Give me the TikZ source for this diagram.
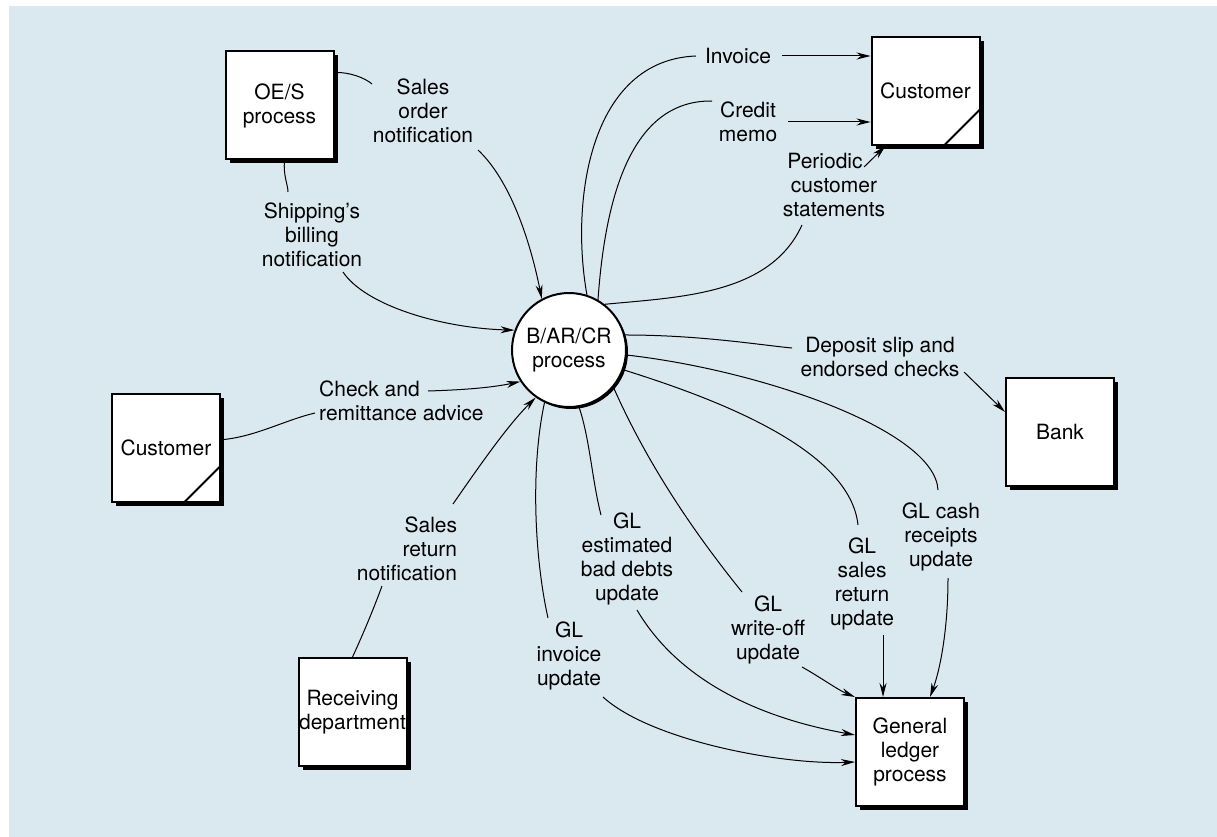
\documentclass[tikz,border=0pt]{standalone}
\usepackage{fontspec}
\setmainfont{TeX Gyre Heros}
\usetikzlibrary{shadows,arrows.meta,calc}
\definecolor{bgblue}{HTML}{DAE8F0}
\begin{document}
\begin{tikzpicture}[x=1pt,y=-1pt,
  font=\fontsize{21}{24}\selectfont,
  entity/.style={draw=black,line width=2pt,fill=white,minimum width=108pt,minimum height=108pt,
    inner sep=0pt,align=center,
    drop shadow={shadow xshift=4pt,shadow yshift=-4pt,fill=black,opacity=1}},
  procc/.style={circle,draw=black,line width=2pt,fill=white,minimum size=114pt,inner sep=0pt,align=center,
    drop shadow={shadow xshift=2pt,shadow yshift=-2pt,fill=black,opacity=1}},
  lbl/.style={align=center,inner sep=1pt},
  flow/.style={line width=1pt},
  aflow/.style={line width=1pt,-{Stealth[length=14pt,width=7pt]}}
]
% page and background
\useasboundingbox (0,0) rectangle (1217,837);
\fill[white] (0,0) rectangle (1217,837);
\fill[bgblue] (9,6) rectangle (1217,837);

% entities and processes
\node[entity] (oes) at (279.5,105.5) {OE/S\\process};
\node[entity] (custT) at (925.5,91) {Customer};
\node[entity] (custL) at (166,447.5) {Customer};
\node[entity] (bank) at (1060,432) {Bank};
\node[entity] (recv) at (352.5,712) {Receiving\\department};
\node[entity] (gl) at (910,752) {General\\ledger\\process};
\node[procc] (proc) at (569,350) {B/AR/CR\\process};

% external-entity corner marks
\foreach \n in {custT,custL}
  \draw[line width=2pt] ([xshift=-37pt]\n.south east) -- ([yshift=37pt]\n.south east);

% flow labels
\node[lbl] (lSales) at (423,111) {Sales\\order\\notification};
\node[lbl] (lShip) at (312,235) {Shipping's\\billing\\notification};
\node[lbl,align=left,anchor=west] (lCheck) at (318,401) {Check and\\remittance advice};
\node[lbl,align=right] (lSRet) at (407,549) {Sales\\return\\notification};
\node[lbl] (lInv) at (738,56) {Invoice};
\node[lbl] (lCM) at (748,122) {Credit\\memo};
\node[lbl] (lPer) at (834,185) {Periodic\hspace*{18pt}\\customer\\statements};
\node[lbl] (lDep) at (880,357) {Deposit slip and\\endorsed checks};
\node[lbl] (lGLc) at (941,537) {GL cash\\receipts\\update};
\node[lbl] (lGLs) at (862,583.5) {GL\\sales\\return\\update};
\node[lbl] (lGLw) at (768,630) {GL\\write-off\\update};
\node[lbl] (lGLb) at (627,558.5) {GL\\estimated\\bad debts\\update};
\node[lbl] (lGLi) at (569,656) {GL\\invoice\\update};

% sales order notification
\draw[flow] (oes.31) .. controls (350,72) and (365,78) .. ($(lSales)+(-51,-27)$);
\draw[aflow] ($(lSales)+(55,39)$) .. controls (510,180) and (530,240) .. (proc.118);
% shipping's billing notification
\draw[flow] ([xshift=5pt]oes.south) .. controls (283,175) and (288,185) .. ($(lShip)+(-24,-43)$);
\draw[aflow] ($(lShip)+(31,37)$) .. controls (365,305) and (440,328) .. (proc.160);
% check and remittance advice
\draw[flow] (custL.8) .. controls (255,437) and (285,420) .. ($(lCheck.west)+(-3,12)$);
\draw[aflow] ($(lCheck.west)+(110,-10)$) .. controls (460,390) and (490,388) .. (proc.213);
% sales return notification
\draw[flow] (recv.north) .. controls (365,630) and (375,605) .. ($(lSRet)+(-25,37)$);
\draw[aflow] ($(lSRet)+(46,-45)$) .. controls (480,465) and (508,425) .. (proc.235);
% invoice
\draw[flow] (proc.72) .. controls (570,200) and (590,60) .. ($(lInv)+(-42,0)$);
\draw[aflow] ($(lInv)+(44,0)$) -- (custT.west |- lInv);
% credit memo
\draw[flow] (proc.60) .. controls (605,200) and (630,100) .. ($(lCM)+(-36,-21)$);
\draw[aflow] ($(lCM)+(40,0)$) -- (custT.west |- lCM);
% periodic customer statements
\draw[flow] (proc.52) .. controls (680,297) and (770,295) .. ($(lPer)+(-32,40)$);
\draw[aflow] ($(lPer)+(30,-18)$) -- ([xshift=-40pt]custT.south);
% deposit slip and endorsed checks
\draw[flow] (proc.15) .. controls (700,335) and (760,345) .. ($(lDep)+(-88,-9)$);
\draw[aflow] ($(lDep)+(84,15)$) -- (bank.160);
% GL cash receipts update
\draw[flow] (proc.-5) .. controls (760,370) and (935,430) .. ($(lGLc)+(-3,-47)$);
\draw[aflow] ($(lGLc)+(7,41)$) .. controls (948,630) and (940,670) .. ([xshift=20pt]gl.north);
% GL sales return update
\draw[flow] (proc.-20) .. controls (720,400) and (850,450) .. ($(lGLs)+(-4,-58.5)$);
\draw[aflow] ($(lGLs)+(21,51.5)$) -- ([xshift=-27pt]gl.north);
% GL write-off update
\draw[flow] (proc.-40) .. controls (650,470) and (700,540) .. ($(lGLw)+(-26,-38)$);
\draw[aflow] ($(lGLw)+(34,37)$) .. controls (820,677) and (838,690) .. (gl.north west);
% GL estimated bad debts update
\draw[flow] (proc.-80) .. controls (590,440) and (592,480) .. ($(lGLb)+(-26,-43.5)$);
\draw[aflow] ($(lGLb)+(10,51.5)$) .. controls (690,700) and (800,725) .. ([yshift=17pt]gl.west);
% GL invoice update
\draw[flow] (proc.-115) .. controls (530,470) and (535,560) .. ($(lGLi)+(-21,-38)$);
\draw[aflow] ($(lGLi)+(34,41)$) .. controls (650,740) and (780,765) .. ([yshift=-10pt]gl.west);
\end{tikzpicture}
\end{document}
